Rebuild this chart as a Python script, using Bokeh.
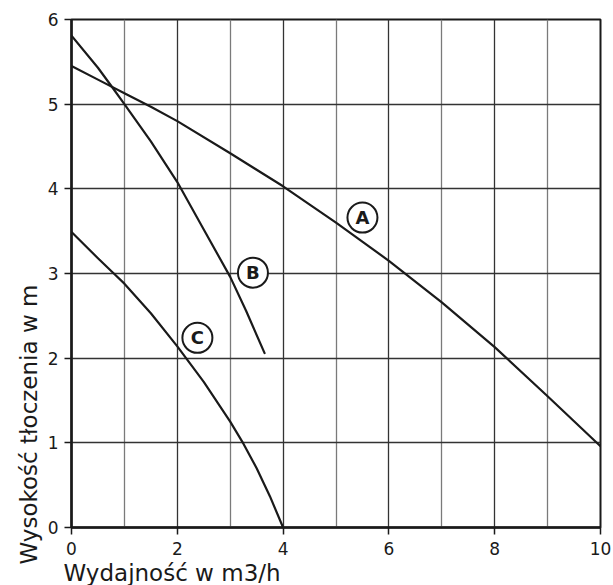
from bokeh.plotting import figure
from bokeh.models import FixedTicker, Range1d, Title, ColumnDataSource
from bokeh.core.properties import value
from bokeh.embed import file_html
from bokeh.resources import INLINE

# Curve A
a_x = [0, 0.5, 1, 1.5, 2, 3, 4, 5, 6, 7, 8, 9, 10]
a_y = [5.45, 5.29, 5.13, 4.97, 4.80, 4.42, 4.03, 3.60, 3.15, 2.66, 2.13, 1.55, 0.96]
# Curve B
b_x = [0, 0.5, 0.77, 1.0, 1.5, 2.0, 2.5, 3.0, 3.3, 3.65]
b_y = [5.81, 5.43, 5.20, 5.00, 4.56, 4.08, 3.52, 2.96, 2.56, 2.06]
# Curve C
c_x = [0, 0.5, 0.8, 1, 1.5, 2, 2.5, 3, 3.25, 3.5, 3.75, 4]
c_y = [3.49, 3.18, 3.00, 2.88, 2.53, 2.14, 1.72, 1.25, 0.99, 0.70, 0.37, 0.0]

# Curve tags
tag_text = ["A", "B", "C"]
tag_x = [5.50, 3.43, 2.38]
tag_y = [3.66, 3.01, 2.24]

x_ticks = [0, 2, 4, 6, 8, 10]
x_minor = [1, 3, 5, 7, 9]
y_ticks = [0, 1, 2, 3, 4, 5, 6]

x_title = "Wydajność w m3/h"
y_title = "Wysokość tłoczenia w m"

INK = "#1a1a1a"
FONT = "DejaVu Sans"

p = figure(width=613, height=585, x_range=Range1d(0, 10), y_range=Range1d(0, 6),
           output_backend="svg", toolbar_location=None,
           min_border_left=71, min_border_right=13, min_border_top=19, min_border_bottom=57)
p.background_fill_color = "white"
p.border_fill_color = "white"
p.outline_line_color = INK
p.outline_line_width = 2

p.xaxis.ticker = FixedTicker(ticks=x_ticks, minor_ticks=x_minor)
p.yaxis.ticker = FixedTicker(ticks=y_ticks)

for ax in (p.xaxis, p.yaxis):
    ax.axis_line_color = INK
    ax.axis_line_width = 2.5
    ax.major_tick_line_color = INK
    ax.major_tick_line_width = 1.5
    ax.major_tick_out = 7
    ax.major_tick_in = 0
    ax.minor_tick_line_color = None
    ax.major_label_text_font = FONT
    ax.major_label_text_font_size = "17px"
    ax.major_label_text_color = INK
p.xaxis.major_label_standoff = 7
p.yaxis.major_label_standoff = 6

p.xgrid.grid_line_color = "#333333"
p.xgrid.grid_line_width = 1.3
p.xgrid.minor_grid_line_color = "#7a7a7a"
p.xgrid.minor_grid_line_width = 1.3
p.ygrid.grid_line_color = "#333333"
p.ygrid.grid_line_width = 1.5

for xs, ys in ((a_x, a_y), (b_x, b_y), (c_x, c_y)):
    p.line(xs, ys, line_color=INK, line_width=2.2, line_join="round", line_cap="round")

src = ColumnDataSource(dict(x=tag_x, y=tag_y, t=tag_text))
p.scatter("x", "y", source=src, marker="circle", size=30, fill_color="white",
          line_color=INK, line_width=2)
p.text("x", "y", text="t", source=src, text_font=value(FONT), text_font_style="bold",
       text_font_size="18px", text_color=INK, text_align="center", text_baseline="middle")

p.add_layout(Title(text=x_title, align="left", offset=-8, standoff=0,
                   text_font=FONT, text_font_size="23px", text_font_style="normal",
                   text_color=INK), "below")
p.add_layout(Title(text=y_title, align="left", offset=-37, standoff=5,
                   text_font=FONT, text_font_size="23px", text_font_style="normal",
                   text_color=INK), "left")

open("out.html", "w").write(file_html(p, INLINE))
